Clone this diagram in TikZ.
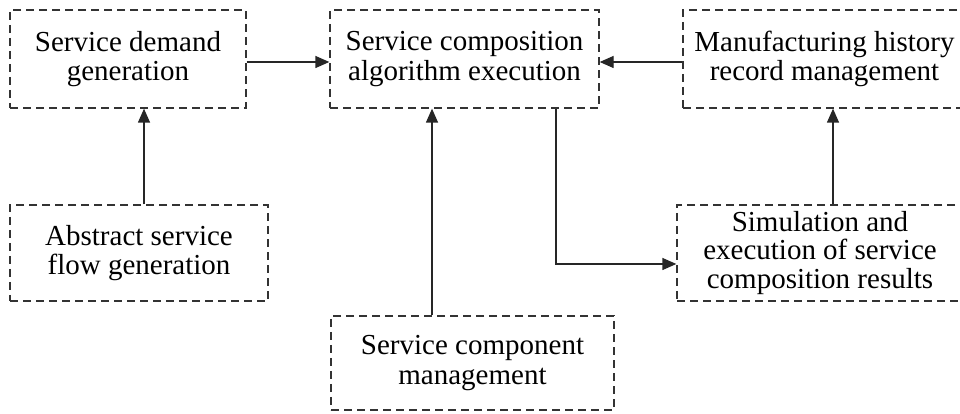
\documentclass[tikz,border=0pt]{standalone}
\usepackage{fontspec}
\setmainfont{Liberation Serif}
\usetikzlibrary{arrows.meta}
\begin{document}
\begin{tikzpicture}[x=1pt,y=1pt,
  box/.style={draw=black!80, line width=1.3pt, dash pattern=on 8pt off 5pt,
    inner sep=0pt, align=center, font=\fontsize{29}{29.5}\selectfont},
  arr/.style={draw=black!85, line width=1.3pt, -{Triangle[length=14pt,width=12pt]}}]
\useasboundingbox (0,0) rectangle (960,414);
% y_tikz = 414 - y_img
\node[box, minimum width=236pt, minimum height=98pt] (b1) at (128,355) {Service demand\\generation};
\node[box, minimum width=269pt, minimum height=98pt] (b2) at (464.5,355) {Service composition\\algorithm execution};
\node[box, minimum width=283pt, minimum height=98pt] (b3) at (824.5,355) {Manufacturing history\\record management};
\node[box, minimum width=258pt, minimum height=96pt] (b4) at (139,161) {Abstract service\\flow generation};
\node[box, minimum width=286pt, minimum height=96pt, font=\fontsize{29}{28.2}\selectfont] (b5) at (820,161) {Simulation and\\execution of service\\composition results};
\node[box, minimum width=283pt, minimum height=94pt] (b6) at (472.5,51) {Service component\\management};
\coordinate (ya) at (0,352);
\coordinate (xa) at (144,0);
\coordinate (xb) at (432,0);
\coordinate (xc) at (556,0);
\coordinate (yc) at (0,150);
\coordinate (xd) at (833,0);
\coordinate (bend) at (556,150);
\draw[arr] (b1.east |- ya) -- (b2.west |- ya);
\draw[arr] (b3.west |- ya) -- (b2.east |- ya);
\draw[arr] (b4.north -| xa) -- (b1.south -| xa);
\draw[arr] (b6.north -| xb) -- (b2.south -| xb);
\draw[arr] (b2.south -| xc) -- (bend) -- (b5.west |- yc);
\draw[arr] (b5.north -| xd) -- (b3.south -| xd);
\end{tikzpicture}
\end{document}
